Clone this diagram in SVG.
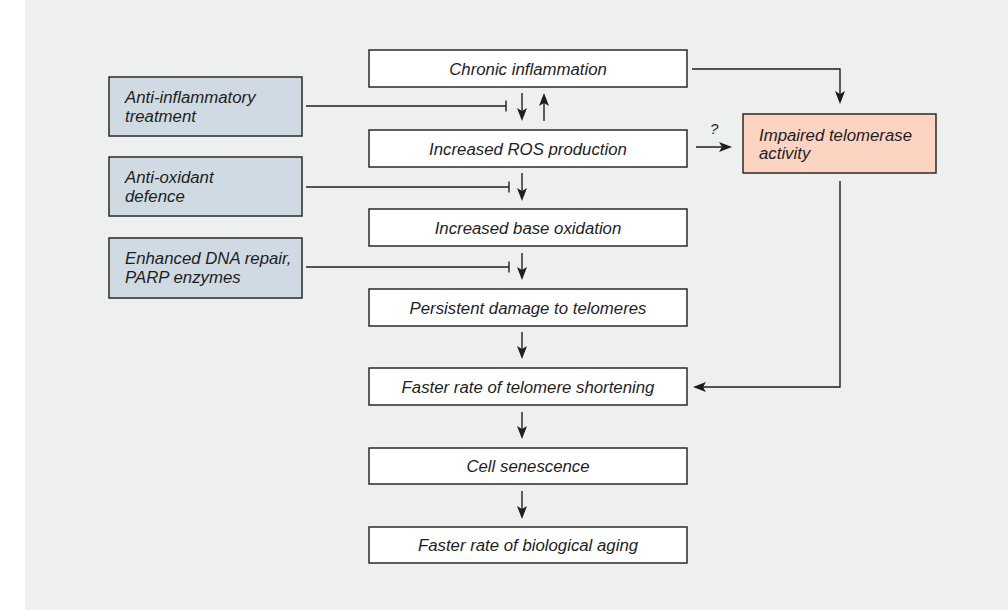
<svg xmlns="http://www.w3.org/2000/svg" width="1008" height="610" viewBox="0 0 1008 610">
<style>
.box{fill:#ffffff;stroke:#2a2a2a;stroke-width:1.5}
.ctl{fill:#cfdae2;stroke:#2a2a2a;stroke-width:1.5}
.imp{fill:#fdd3c1;stroke:#2a2a2a;stroke-width:1.5}
text{font-family:"Liberation Sans",Arial,sans-serif;font-style:italic;font-size:16.8px;fill:#1e1e1e}
.c{text-anchor:middle}
.ln{fill:none;stroke:#1e1e1e;stroke-width:1.4}
.arr{marker-end:url(#ah)}
</style>
<defs>
<marker id="ah" markerUnits="userSpaceOnUse" markerWidth="14" markerHeight="11" refX="11" refY="5.5" orient="auto" viewBox="0 0 14 11">
<path d="M0,0.5 L13,5.5 L0,10.5 L3,5.5 z" fill="#1e1e1e"/>
</marker>
</defs>
<rect x="25" y="0" width="983" height="610" fill="#eef0ef"/>
<g id="n_chronic"><rect class="box" x="369" y="50" width="318" height="37"/><text class="c" x="528" y="74.5">Chronic inflammation</text></g>
<g id="n_ros"><rect class="box" x="369" y="130" width="318" height="37"/><text class="c" x="528" y="154.5">Increased ROS production</text></g>
<g id="n_base"><rect class="box" x="369" y="209" width="318" height="37"/><text class="c" x="528" y="233.5">Increased base oxidation</text></g>
<g id="n_persist"><rect class="box" x="369" y="289" width="318" height="37"/><text class="c" x="528" y="313.5">Persistent damage to telomeres</text></g>
<g id="n_faster"><rect class="box" x="369" y="368" width="318" height="37"/><text class="c" x="528" y="392.5">Faster rate of telomere shortening</text></g>
<g id="n_cell"><rect class="box" x="369" y="448" width="318" height="36"/><text class="c" x="528" y="472">Cell senescence</text></g>
<g id="n_aging"><rect class="box" x="369" y="527" width="318" height="36"/><text class="c" x="528" y="551">Faster rate of biological aging</text></g>
<g id="n_antiinf"><rect class="ctl" x="109" y="77" width="193" height="59"/><text x="125" y="103">Anti-inflammatory</text><text x="125" y="122">treatment</text></g>
<g id="n_antiox"><rect class="ctl" x="109" y="157" width="193" height="59"/><text x="125" y="183">Anti-oxidant</text><text x="125" y="202">defence</text></g>
<g id="n_repair"><rect class="ctl" x="109" y="238" width="193" height="60"/><text x="125" y="264">Enhanced DNA repair,</text><text x="125" y="283">PARP enzymes</text></g>
<g id="n_telomerase"><rect class="imp" x="743" y="114" width="193" height="59"/><text x="759" y="141">Impaired telomerase</text><text x="759" y="159">activity</text></g>
<g id="connectors">
<path class="ln arr" d="M522,93 V119"/>
<path class="ln arr" d="M544,121 V95"/>
<path class="ln" d="M306,106 H506 M506,100.5 V111.5"/>
<path class="ln arr" d="M522,173 V199"/>
<path class="ln" d="M306,187 H509 M509,181.5 V192.5"/>
<path class="ln arr" d="M522,253 V278"/>
<path class="ln" d="M306,267 H509 M509,261.5 V272.5"/>
<path class="ln arr" d="M522,332 V357"/>
<path class="ln arr" d="M522,412 V437"/>
<path class="ln arr" d="M522,491 V517"/>
<path class="ln arr" d="M692,69 H840 V102"/>
<path class="ln arr" d="M696,147 H730"/>
<text x="710" y="134" style="font-size:15px">?</text>
<path class="ln arr" d="M840,181 V387 H695"/>
</g>
</svg>
